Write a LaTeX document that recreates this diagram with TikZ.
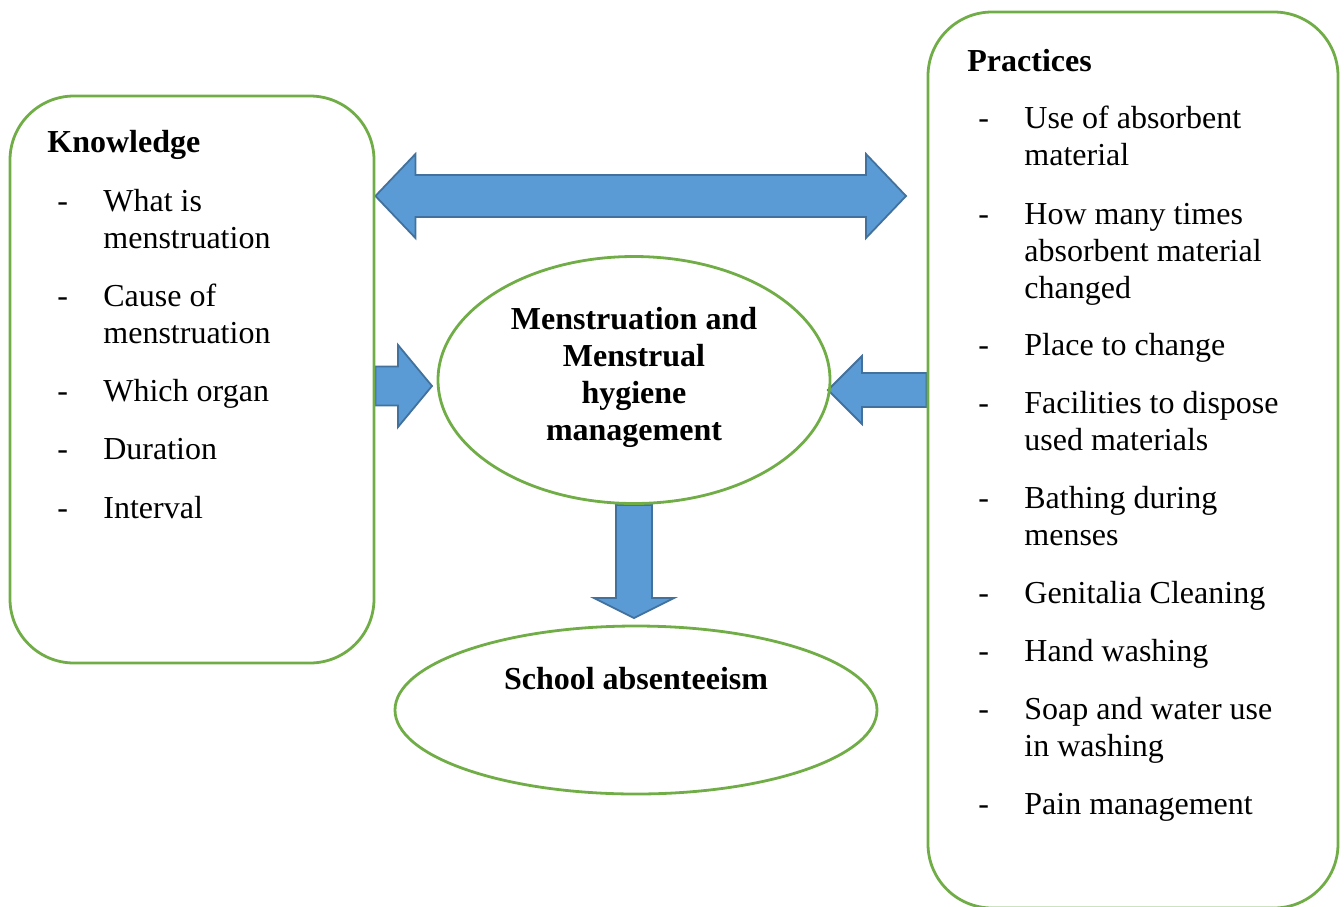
\documentclass[tikz,border=0pt]{standalone}
\usepackage{fontspec}
\setmainfont{Liberation Serif}
\usetikzlibrary{shapes.geometric,calc,backgrounds}
\definecolor{boxgreen}{HTML}{70AD47}
\definecolor{arrowfill}{HTML}{5B9BD5}
\definecolor{arrowedge}{HTML}{41719C}
\newcommand{\dashlist}[1]{\begin{tabular}[t]{@{}p{23pt}@{}l@{}}#1\end{tabular}}
\tikzset{
  panel/.style={draw=boxgreen,line width=1.4pt,rounded corners=32pt,inner sep=0pt},
  oval/.style={draw=boxgreen,line width=1.4pt,ellipse,inner sep=0pt},
  blockarrow/.style={fill=arrowfill,draw=arrowedge,line width=0.9pt,line join=miter},
  txt/.style={inner sep=0pt,anchor=base west,font=\fontsize{16}{18.5}\selectfont},
}
\begin{document}
\begin{tikzpicture}[x=0.5pt,y=-0.5pt]
%%
  \useasboundingbox (0,0) rectangle (1344,906);
  \clip (0,0) rectangle (1344,906);

  \node (node_know) at (192,379.5) [panel,minimum width=182pt,minimum height=283.5pt] {};
  \node (node_prac) at (1133,460) [panel,minimum width=205pt,minimum height=448pt] {};
  \node (node_mh) at (634,380) [oval,minimum width=196pt,minimum height=123.5pt] {};
  \node (node_school) at (636,710) [oval,minimum width=241pt,minimum height=84pt] {};

  \node (node_mhtxt) at (634,329) [txt,anchor=base] {\bfseries\begin{tabular}[t]{@{}c@{}}Menstruation and\\Menstrual\\hygiene\\management\end{tabular}};
  \node (node_schooltxt) at (636,689) [txt,anchor=base] {\bfseries School absenteeism};

  %% knowledge
  \node (node_k0) at (47,152) [txt] {\bfseries Knowledge};
  \node (node_k1) at (57,211) [txt] {\dashlist{-&What is\\&menstruation}};
  \node (node_k2) at (57,306) [txt] {\dashlist{-&Cause of\\&menstruation}};
  \node (node_k3) at (57,401) [txt] {\dashlist{-&Which organ}};
  \node (node_k4) at (57,459) [txt] {\dashlist{-&Duration}};
  \node (node_k5) at (57,518) [txt] {\dashlist{-&Interval}};

  %% practices
  \node (node_p0) at (967,71) [txt] {\bfseries Practices};
  \node (node_p1) at (978,128) [txt] {\dashlist{-&Use of absorbent\\&material}};
  \node (node_p2) at (978,224) [txt] {\dashlist{-&How many times\\&absorbent material\\&changed}};
  \node (node_p3) at (978,355) [txt] {\dashlist{-&Place to change}};
  \node (node_p4) at (978,413) [txt] {\dashlist{-&Facilities to dispose\\&used materials}};
  \node (node_p5) at (978,508) [txt] {\dashlist{-&Bathing during\\&menses}};
  \node (node_p6) at (978,603) [txt] {\dashlist{-&Genitalia Cleaning}};
  \node (node_p7) at (978,661) [txt] {\dashlist{-&Hand washing}};
  \node (node_p8) at (978,719) [txt] {\dashlist{-&Soap and water use\\&in washing}};
  \node (node_p9) at (978,814) [txt] {\dashlist{-&Pain management}};

  \coordinate (da_l) at (node_know.east |- 0,196);
  \coordinate (da_r) at (906,196);
  \coordinate (la_s) at (node_know.east |- 0,386);
  \coordinate (la_t) at (432,386);
  \coordinate (ra_s) at (node_prac.west |- 0,390);
  \coordinate (ra_t) at (828,390);
  \coordinate (dn_s) at (node_mh.south);
  \coordinate (dn_t) at (634,618);

  \begin{scope}[on background layer]
  \draw [blockarrow] (da_l) -- ++(40,-42) -- ++(0,21) -- ($(da_r)+(-40,-21)$) -- ++(0,-21) -- (da_r)
    -- ++(-40,42) -- ++(0,-21) -- ($(da_l)+(40,21)$) -- ++(0,21) -- cycle;
  \draw [blockarrow] ($(la_s)+(0,-19.5)$) -- ($(la_t)+(-34,-19.5)$) -- ++(0,-21.5) -- (la_t)
    -- ++(-34,41) -- ++(0,-21.5) -- ($(la_s)+(0,19.5)$) -- cycle;
  \draw [blockarrow] ($(ra_s)+(0,-17)$) -- ($(ra_t)+(34,-17)$) -- ++(0,-17) -- (ra_t)
    -- ++(34,34) -- ++(0,-17) -- ($(ra_s)+(0,17)$) -- cycle;
  \draw [blockarrow] ($(dn_s)+(-18,0)$) -- ($(dn_t)+(-18,-20)$) -- ++(-22,0) -- (dn_t)
    -- ++(40,-20) -- ++(-22,0) -- ($(dn_s)+(18,0)$) -- cycle;
  \end{scope}
%
\end{tikzpicture}
\end{document}
